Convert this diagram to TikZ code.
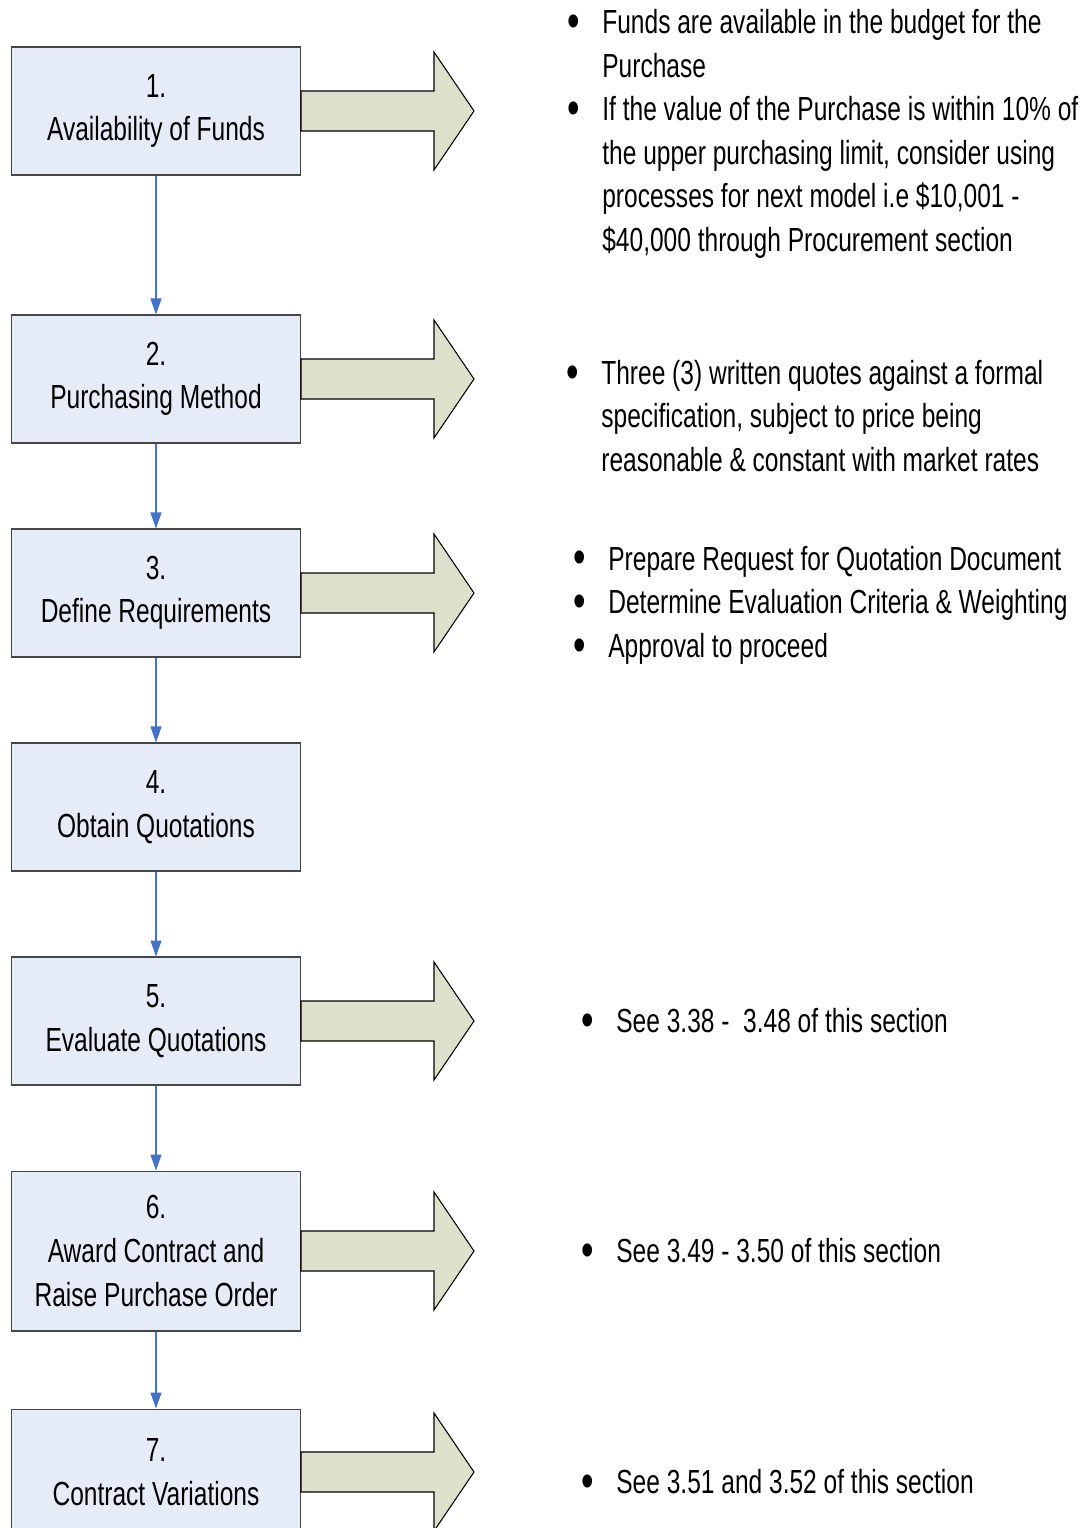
\documentclass[tikz,border=0pt]{standalone}
\usepackage{graphicx}
\usepackage{fontspec}
\setmainfont{Liberation Sans}[FakeStretch=0.735]
\usetikzlibrary{arrows.meta,positioning}
\definecolor{stepfill}{RGB}{230,236,247}
\definecolor{stepline}{RGB}{70,70,70}
\definecolor{flowblue}{RGB}{68,114,196}
\definecolor{notefill}{RGB}{221,225,203}
\newcommand{\notebullet}{\makebox[0.7cm][l]{\raisebox{-2.2pt}{\scalebox{1.45}{\textbullet}}}}
\newcommand{\noteindent}{\hspace*{0.7cm}}

\begin{document}
\begin{tikzpicture}[x=0.02cm, y=-0.02cm,
  font=\fontsize{19}{24.8}\selectfont,
  stepbox/.style={draw=stepline, fill=stepfill, line width=0.6pt, minimum width=5.78cm, minimum height=2.56cm, align=center, inner sep=2pt},
  flow/.style={-{Triangle[length=0.32cm,width=0.22cm]}, draw=flowblue, line width=0.6pt},
  notearrow/.style={draw=black, fill=notefill, line width=0.6pt},
  note/.style={anchor=west, align=left, inner sep=0pt}]
  \useasboundingbox (0,0) rectangle (1083,1528);
  \clip (0,0) rectangle (1083,1528);

  % Process steps
  \node[stepbox] (s1) at (156,111) {1.\\Availability of Funds};
  \node[stepbox] (s2) at (156,379) {2.\\Purchasing Method};
  \node[stepbox] (s3) at (156,593) {3.\\Define Requirements};
  \node[stepbox] (s4) at (156,807) {4.\\Obtain Quotations};
  \node[stepbox] (s5) at (156,1021) {5.\\Evaluate Quotations};
  \node[stepbox, minimum height=3.2cm] (s6) at (156,1251) {6.\\Award Contract and\\Raise Purchase Order};
  \node[stepbox, minimum height=2.52cm] (s7) at (156,1472) {7.\\Contract Variations};

  % Flow between steps
  \foreach \a/\b in {s1/s2,s2/s3,s3/s4,s4/s5,s5/s6,s6/s7}
    \draw[flow] (\a) -- (\b);

  % Block arrows to the notes
  \foreach \s in {s1,s2,s3,s5,s6,s7}
    \draw[notearrow] (\s.east) ++(0,-20) -- ++(133,0) -- ++(0,-39) -- ++(40,59) -- ++(-40,59) -- ++(0,-39) -- ++(-133,0) -- cycle;

  % Notes
  \node[note] (n1) at (567,134) {\notebullet Funds are available in the budget for the\\\noteindent Purchase\\\notebullet If the value of the Purchase is within 10\% of\\\noteindent the upper purchasing limit, consider using\\\noteindent processes for next model i.e \$10,001 -\\\noteindent \$40,000 through Procurement section};
  \node[note] (n2) at (566,416) {\notebullet Three (3) written quotes against a formal\\\noteindent specification, subject to price being\\\noteindent reasonable \& constant with market rates};
  \node[note] (n3) at (573,605) {\notebullet Prepare Request for Quotation Document\\\notebullet Determine Evaluation Criteria \& Weighting\\\notebullet Approval to proceed};
  \node[note] (n5) at (581,1022) {\notebullet See 3.38 -\ \ 3.48 of this section};
  \node[note] (n6) at (581,1252) {\notebullet See 3.49 - 3.50 of this section};
  \node[note] (n7) at (581,1483) {\notebullet See 3.51 and 3.52 of this section};
\end{tikzpicture}
\end{document}
